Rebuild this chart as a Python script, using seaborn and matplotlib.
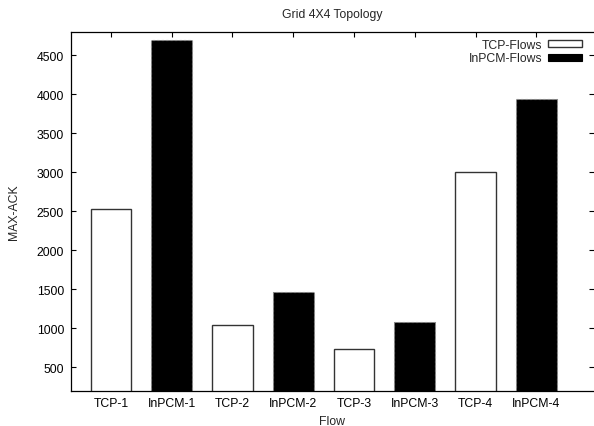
import matplotlib
matplotlib.use("Agg")
import matplotlib.pyplot as plt
import seaborn as sns
import pandas as pd

flows = ["TCP-1", "InPCM-1", "TCP-2", "InPCM-2", "TCP-3", "InPCM-3", "TCP-4", "InPCM-4"]
max_ack = [2530, 4700, 1047, 1465, 735, 1085, 3000, 3940]
series = ["TCP-Flows", "InPCM-Flows", "TCP-Flows", "InPCM-Flows",
          "TCP-Flows", "InPCM-Flows", "TCP-Flows", "InPCM-Flows"]
y_ticks = [500, 1000, 1500, 2000, 2500, 3000, 3500, 4000, 4500]

df = pd.DataFrame({"Flow": flows, "MAX-ACK": max_ack, "Series": series})

FS = 8.8
sns.set_style("white")
plt.rcParams["font.family"] = ["Liberation Sans", "DejaVu Sans"]
plt.rcParams["font.size"] = FS

fig = plt.figure(figsize=(5.94, 4.27), dpi=100)
ax = fig.add_axes([71 / 594, 1 - 391.7 / 427, (594 - 71) / 594, (391.7 - 33) / 427])

sns.barplot(data=df, x="Flow", y="MAX-ACK", hue="Series",
            hue_order=["TCP-Flows", "InPCM-Flows"],
            palette={"TCP-Flows": "white", "InPCM-Flows": "black"},
            dodge=False, width=0.67, errorbar=None, ax=ax)

for p in ax.patches:
    fc = p.get_facecolor()
    if fc[0] > 0.5:
        p.set_edgecolor("#333333")
        p.set_linewidth(1.0)
    else:
        p.set_edgecolor("#888888")
        p.set_linestyle((0, (2, 2)))
        p.set_linewidth(0.8)

ax.set_xlim(-0.658, 7.95)
ax.set_ylim(200, 4800)
ax.set_yticks(y_ticks)
ax.set_yticklabels([str(v) for v in y_ticks])

ax.set_title("Grid 4X4 Topology", fontsize=FS, pad=10.5)
ax.set_xlabel("Flow", fontsize=FS, labelpad=4)
ax.set_ylabel("MAX-ACK", fontsize=FS, labelpad=12)

for s in ["left", "bottom", "top"]:
    ax.spines[s].set_visible(True)
    ax.spines[s].set_color("black")
    ax.spines[s].set_linewidth(0.9)
ax.spines["right"].set_visible(False)

ax.tick_params(axis="both", direction="in", length=3.5, width=0.8, labelsize=FS,
               top=True, right=True, bottom=True, left=True, colors="black")
ax.tick_params(axis="x", pad=4.5)
ax.tick_params(axis="y", pad=5)

handles, labels = ax.get_legend_handles_labels()
for h in handles:
    h.set_linestyle("-")
    if h.get_facecolor()[0] > 0.5:
        h.set_edgecolor("#333333")
        h.set_linewidth(1.0)
    else:
        h.set_edgecolor("black")
        h.set_linewidth(0.8)
ax.legend(handles, labels, loc="upper right", bbox_to_anchor=(0.978, 0.98),
          frameon=False, markerfirst=False, fontsize=FS, borderaxespad=0,
          borderpad=0, handlelength=2.8, handleheight=0.5, handletextpad=0.5,
          labelspacing=0.1)

fig.savefig("out.png", dpi=100)
